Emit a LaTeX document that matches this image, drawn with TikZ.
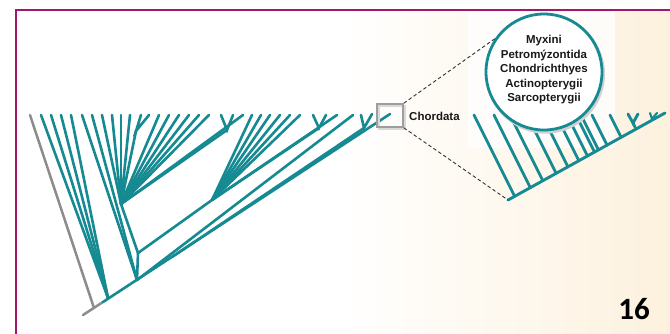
\documentclass[tikz,border=0pt]{standalone}
\usepackage{fontspec}
\setmainfont{Liberation Sans}
\newfontfamily\numfont{Carlito}
\usetikzlibrary{calc}
\definecolor{teal1}{RGB}{22,138,146}
\definecolor{frameC}{RGB}{160,22,112}
\definecolor{cream}{RGB}{253,241,222}
\definecolor{outgray}{RGB}{140,140,140}
\tikzset{
  br/.style={draw=teal1, line width=2.6pt, line cap=round},
  ibr/.style={draw=teal1, line width=2.9pt, line cap=round},
  gbr/.style={draw=outgray, line width=2.5pt, line cap=round},
  zoomline/.style={draw=black!80, line width=0.9pt, dash pattern=on 3.5pt off 2.5pt},
  lbl/.style={text=black!90, font=\bfseries\fontsize{11.5}{14.5}\selectfont, inner sep=0pt}
}
\begin{document}
\begin{tikzpicture}[x=1pt,y=-1pt]
\useasboundingbox (0,0) rectangle (670,333);
\clip (0,0) rectangle (670,333);
% background
\fill[white] (0,0) rectangle (670,333);
\shade[left color=white, right color=cream] (340,11) rectangle (670,333);
\fill[white, opacity=0.8] (468,12) rectangle (615,148);
% frame
\draw[frameC, line width=2.4pt] (16,334) -- (16,10) -- (671,10);

% ---------- main tree ----------
\coordinate (G0) at (83,315);
\coordinate (R) at (103,302);
\coordinate (Gb) at (94,308);
\coordinate (Gt) at (30,115);
\coordinate (E) at (390,114);
\coordinate (A) at (108,298);
\coordinate (B) at (137,280);
\coordinate (B2) at (138,253);
\coordinate (F1) at (121,204);
\coordinate (F2) at (212,200);
\coordinate (D) at (172,257);
\coordinate (K1) at (136,131);
\coordinate (K2) at (227,130);
\coordinate (K3) at (319,128);
\coordinate (K4) at (364,128);
\coordinate (tB) at (353,115);

\draw[gbr] (G0) -- (R);
\draw[gbr] (Gb) -- (Gt);
\draw[br] (R) -- (E);

\foreach \x [count=\i] in {41,51,61,71} {
  \coordinate (a\i) at (\x,115);
  \draw[br] (A) -- (a\i);
}
\foreach \x [count=\i] in {82,92} {
  \coordinate (b\i) at (\x,115);
  \draw[br] (B) -- (b\i);
}
\draw[br] (B) -- (B2);
\draw[br] (B2) -- (F1);
\draw[br] (B2) -- (F2);
\draw[br] (B) -- (tB);
\draw[br] (D) -- (K4);

\foreach \x [count=\i] in {102,112,121,130,159,169,179,189,199,209,243} {
  \coordinate (f\i) at (\x,115);
  \draw[br] (F1) -- (f\i);
}
\draw[br] (F1) -- (K1);
\draw[br] (F1) -- (K2);
\foreach \x [count=\i] in {252,261,270,280,290,300,337} {
  \coordinate (g\i) at (\x,115);
  \draw[br] (F2) -- (g\i);
}
\draw[br] (F2) -- (K3);

\coordinate (k1a) at (141,115); \coordinate (k1b) at (149,115);
\coordinate (k2a) at (221,115); \coordinate (k2b) at (233,115);
\coordinate (k3a) at (313,115); \coordinate (k3b) at (326,115);
\coordinate (k4a) at (361,115); \coordinate (k4b) at (372,114);
\draw[br] (k1a) -- (K1) -- (k1b);
\draw[br] (k2a) -- (K2) -- (k2b);
\draw[br] (k3a) -- (K3) -- (k3b);
\draw[br] (k4a) -- (K4) -- (k4b);

% ---------- inset tree ----------
\coordinate (ib1) at (508,200);
\coordinate (ib2) at (665,113);
\draw[ibr] (ib1) -- (ib2);
\foreach \x [count=\i] in {474,494,510,527,542,556,567,576,581,592,610} {
  \pgfmathsetmacro\s{(85-0.5541*(\x-508))/1.27707}
  \coordinate (it\i) at (\x,115);
  \coordinate (ie\i) at (\x+0.5*\s,115+\s);
  \draw[ibr] (it\i) -- (ie\i);
}
\coordinate (Kf) at (633,123);
\pgfmathsetmacro\sf{(200-0.5541*(633-508)-123)/1.27707}
\coordinate (Kfe) at (633+0.5*\sf,123+\sf);
\coordinate (kfa) at (628,114); \coordinate (kfb) at (638,114);
\draw[ibr] (kfa) -- (Kf) -- (kfb);
\draw[ibr] (Kf) -- (Kfe);
\coordinate (Ks) at (652,119);
\coordinate (ksa) at (650,113); \coordinate (ksb) at (657,113);
\draw[ibr, line width=2.2pt] (ksa) -- (Ks) -- (ksb);

% ---------- zoom box ----------
\draw[black!15, line width=1.6pt] (379,106) rectangle (405,129);
\node[draw=black!38, line width=1.6pt, minimum width=26pt, minimum height=23pt, inner sep=0pt] (box) at (390,115.5) {};
\node[lbl, anchor=west, font=\bfseries\fontsize{11.5}{13}\selectfont] (chl) at (409,116) {Chordata};

% ---------- circle ----------
\coordinate (cc) at (544,72);
\fill[black!18] ([shift={(1.5,2.2)}]cc) circle[radius=59.5];
\node[circle, draw=teal1, line width=2.8pt, fill=white, minimum size=116pt, inner sep=0pt] (circ) at (cc) {};
\node[lbl, align=center] (names) at (544,70) {Myxini\\Petromýzontida\\Chondrichthyes\\Actinopterygii\\Sarcopterygii};

\draw[zoomline] (box.north east) -- (circ.146);
\draw[zoomline] (box.south east) -- (ib1);

% page number
\node[font=\numfont\bfseries\fontsize{31}{31}\selectfont, text=black] (pg) at (634,309) {16};
\end{tikzpicture}
\end{document}
